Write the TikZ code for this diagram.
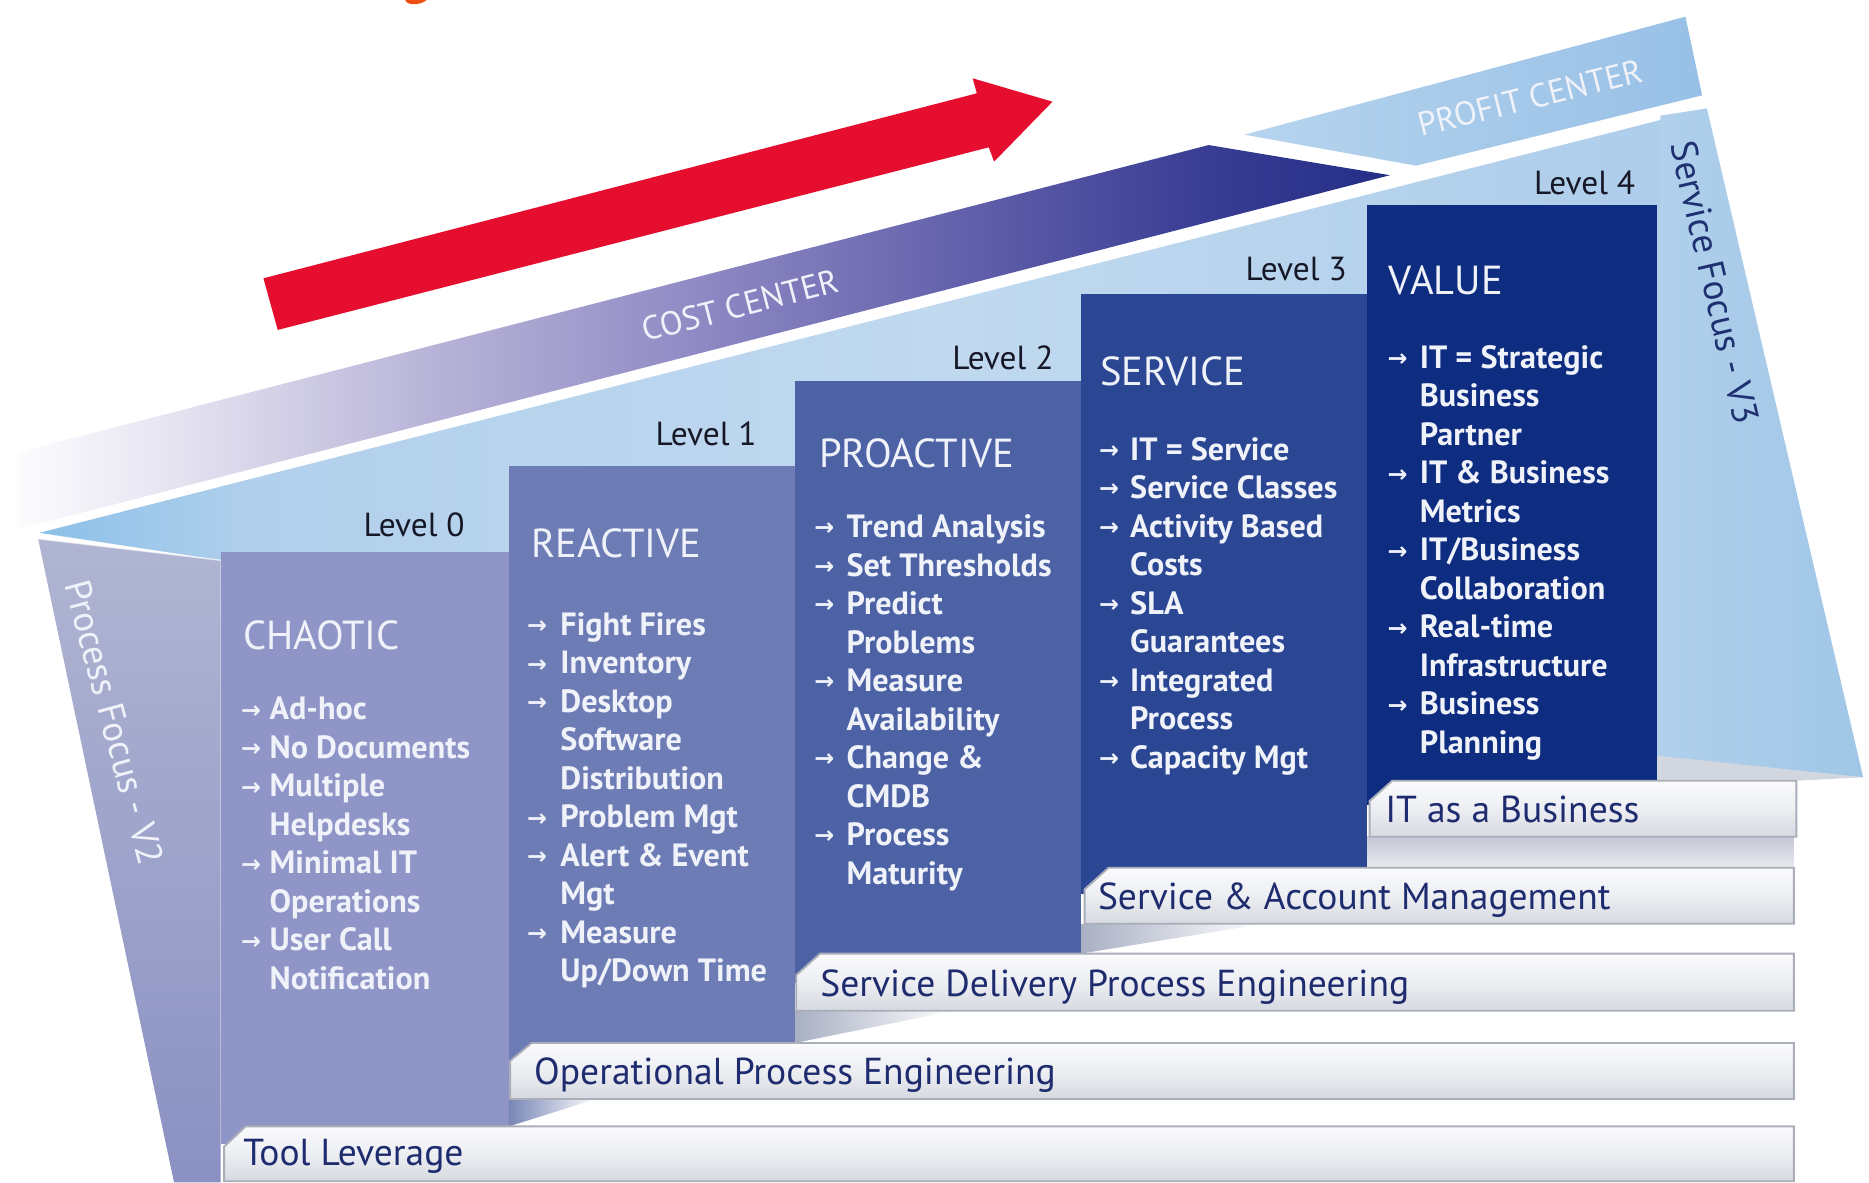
\documentclass[tikz,border=0pt]{standalone}
\usepackage{fontspec}
\setmainfont{PT Sans}
\newfontfamily\arrfont{DejaVu Sans}
\definecolor{redarrow}{RGB}{230,14,47}
\definecolor{orangefrag}{RGB}{236,78,16}
\definecolor{chc}{RGB}{143,149,198}
\definecolor{rec}{RGB}{109,124,180}
\definecolor{proc}{RGB}{76,98,165}
\definecolor{serc}{RGB}{43,71,147}
\definecolor{valc}{RGB}{14,44,128}
\definecolor{wtxt}{RGB}{240,242,250}
\definecolor{lvlc}{RGB}{22,24,40}
\definecolor{navytxt}{RGB}{30,43,110}
\definecolor{barT}{RGB}{251,251,253}
\definecolor{barM}{RGB}{236,238,242}
\definecolor{barB}{RGB}{214,217,224}
\definecolor{barE}{RGB}{170,174,184}
\definecolor{lpT}{RGB}{176,181,210}
\definecolor{lpB}{RGB}{138,145,194}
\definecolor{rpL}{RGB}{176,208,236}
\definecolor{rpR}{RGB}{160,198,230}
\definecolor{pfL}{RGB}{182,212,238}
\definecolor{pfR}{RGB}{152,192,230}
\definecolor{sfocus}{RGB}{30,48,112}
\definecolor{floorc}{RGB}{210,214,222}
\definecolor{gapT}{RGB}{196,200,212}
\definecolor{gapB}{RGB}{232,234,239}
\definecolor{wedgeA}{RGB}{169,176,196}
\definecolor{wedgeB}{RGB}{120,134,182}
\definecolor{cbA}{RGB}{252,252,254}
\definecolor{cbB}{RGB}{228,226,240}
\definecolor{cbC}{RGB}{184,180,216}
\definecolor{cbD}{RGB}{142,137,195}
\definecolor{cbE}{RGB}{96,94,170}
\definecolor{cbF}{RGB}{58,62,148}
\definecolor{cbG}{RGB}{36,46,134}
\definecolor{bwA}{RGB}{140,192,232}
\definecolor{bwB}{RGB}{178,208,236}
\definecolor{bwC}{RGB}{192,217,239}
\definecolor{bwD}{RGB}{172,204,234}
\pgfdeclarehorizontalshading{costband}{100bp}{color(0bp)=(cbA); color(25bp)=(cbA); color(31bp)=(cbB); color(40bp)=(cbC); color(50bp)=(cbD); color(60bp)=(cbE); color(68bp)=(cbF); color(75bp)=(cbG); color(100bp)=(cbG)}
\pgfdeclarehorizontalshading{backwall}{100bp}{color(0bp)=(bwA); color(25bp)=(bwA); color(31bp)=(bwB); color(50bp)=(bwC); color(72bp)=(bwD); color(100bp)=(bwD)}
\newcommand\bulletcol[5]{%
  \foreach \a/\t [count=\i from 0] in {#5}{%
    \node[bul] (#1t\i) at (#3,{#4+32.3*\i}) {\t};
    \ifnum\a=1 \node[arr] (#1a\i) at (#2,{#4+32.3*\i}) {→};\fi
  }}
\begin{document}
\begin{tikzpicture}[x=1pt,y=-1pt,
  lvl/.style={font=\fontsize{28}{30}\selectfont, text=lvlc, anchor=base east, inner sep=0pt},
  ttl/.style={font=\fontsize{34}{36}\selectfont, text=wtxt, anchor=base west, inner sep=0pt},
  bul/.style={font=\bfseries\fontsize{27}{28}\selectfont, text=wtxt, anchor=base west, inner sep=0pt},
  arr/.style={font=\arrfont\bfseries\fontsize{20}{22}\selectfont, text=wtxt, anchor=base west, inner sep=0pt, yshift=1.5pt},
  barlbl/.style={font=\fontsize{31.5}{33}\selectfont, text=navytxt, anchor=base west, inner sep=0pt},
  barfill/.style={top color=barT, bottom color=barB, middle color=barM, draw=barE, line width=1.6pt},
  bandtxt/.style={font=\fontsize{28}{30}\selectfont, inner sep=0pt},
  sidetxt/.style={font=\fontsize{31}{33}\selectfont, inner sep=0pt}
]
\useasboundingbox (0,0) rectangle (1568,992);
\fill[white] (0,0) rectangle (1568,992);

% orange fragment at top
\fill[orangefrag] (340,0) .. controls (341,4.5) and (352,5) .. (358,0) -- cycle;

% back wall
\shade[shading=backwall] (33,447) -- (1431,91) -- (1563,652) -- (1390,652) -- (1390,470) -- (185,470) -- cycle;

% cost center band
\shade[shading=costband] (15,379.5) -- (1014,121.7) -- (1166,147) -- (15,444) -- cycle;
\node[bandtxt, text=wtxt, rotate=14.5] (cost) at (621,256) {COST CENTER};

% profit center band
\shade[left color=pfL, right color=pfR] (1044,113) -- (1414,14) -- (1428,80) -- (1188,139) -- cycle;
\node[bandtxt, text=wtxt, rotate=14] (profit) at (1284,82) {PROFIT CENTER};

% red arrow
\fill[redarrow] (221,233.5) -- (819.5,78.3) -- (816,65.7) -- (883,85.3) -- (834,135.6) -- (829.5,123.6) -- (233,276.8) -- cycle;

% left panel
\shade[top color=lpT, bottom color=lpB] (32,452) -- (185,470) -- (185,992) -- (146,992) -- cycle;
\draw[white, opacity=0.6, line width=1.2pt] (32,452) -- (185,470);
\node[sidetxt, text=wtxt, rotate=-75] (pfocus) at (96,606) {Process Focus - V2};

% right panel
\shade[left color=rpL, right color=rpR] (1393,97) -- (1432,91) -- (1563,652) -- (1391,634) -- cycle;
\fill[floorc] (1390,634) -- (1563,652) -- (1507,655) -- (1390,655) -- cycle;
\node[sidetxt, text=sfocus, rotate=-77] (sfoc) at (1439,237) {Service Focus - V3};

% columns
\fill[chc] (185,463) rectangle (427,960);
\fill[rec] (427,391) rectangle (667,900);
\fill[proc] (667,320) rectangle (907,825);
\fill[serc] (907,247) rectangle (1147,750);
\fill[valc] (1147,172) rectangle (1390,675);

% level labels
\node[lvl] (l0) at (390,450) {Level 0};
\node[lvl] (l1) at (635,374) {Level 1};
\node[lvl] (l2) at (884,310) {Level 2};
\node[lvl] (l3) at (1130,235) {Level 3};
\node[lvl] (l4) at (1372,163) {Level 4};

% titles
\node[ttl] (tchaotic) at (204,545) {CHAOTIC};
\node[ttl] (treactive) at (446,468) {REACTIVE};
\node[ttl] (tproactive) at (687,392) {PROACTIVE};
\node[ttl] (tservice) at (923,323) {SERVICE};
\node[ttl] (tvalue) at (1165,247) {VALUE};

% bullets
\bulletcol{ch}{202}{226}{604}{1/Ad-hoc,1/No Documents,1/Multiple,0/Helpdesks,1/Minimal IT,0/Operations,1/User Call,0/Notification}
\bulletcol{re}{442}{470}{533}{1/Fight Fires,1/Inventory,1/Desktop,0/Software,0/Distribution,1/Problem Mgt,1/Alert \& Event,0/Mgt,1/Measure,0/{Up/Down Time}}
\bulletcol{pr}{683}{710}{451}{1/Trend Analysis,1/Set Thresholds,1/Predict,0/Problems,1/Measure,0/Availability,1/Change \&,0/CMDB,1/Process,0/Maturity}
\bulletcol{se}{922}{948}{386}{1/IT = Service,1/Service Classes,1/Activity Based,0/Costs,1/SLA,0/Guarantees,1/Integrated,0/Process,1/Capacity Mgt}
\bulletcol{va}{1164}{1191}{309}{1/IT = Strategic,0/Business,0/Partner,1/IT \& Business,0/Metrics,1/{IT/Business},0/Collaboration,1/Real-time,0/Infrastructure,1/Business,0/Planning}

% gaps and wedges
\shade[top color=gapT, bottom color=gapB] (1147,702) rectangle (1505,728);
\shade[left color=wedgeA, right color=white] (907,775) -- (1060,775) -- (907,800) -- cycle;
\shade[left color=wedgeA, right color=white] (667,848) -- (800,848) -- (667,875) -- cycle;
\shade[left color=wedgeB, right color=white] (427,922) -- (500,922) -- (427,945) -- cycle;

% bars
\path[barfill] (1149,672) -- (1168,655) -- (1507,655) -- (1507,702) -- (1149,702) -- cycle;
\path[barfill] (910,746) -- (930,728) -- (1505,728) -- (1505,775) -- (910,775) -- cycle;
\path[barfill] (668,818) -- (688,800) -- (1505,800) -- (1505,848) -- (668,848) -- cycle;
\path[barfill] (428,890) -- (446,875) -- (1505,875) -- (1505,922) -- (428,922) -- cycle;
\path[barfill] (188,962) -- (206,945) -- (1505,945) -- (1505,991) -- (188,991) -- cycle;

\node[barlbl] (bIT) at (1162,690) {IT as a Business};
\node[barlbl] (bSA) at (921,763) {Service \& Account Management};
\node[barlbl] (bSD) at (688,836) {Service Delivery Process Engineering};
\node[barlbl] (bOP) at (448,910) {Operational Process Engineering};
\node[barlbl] (bTL) at (204,978) {Tool Leverage};
\end{tikzpicture}
\end{document}
